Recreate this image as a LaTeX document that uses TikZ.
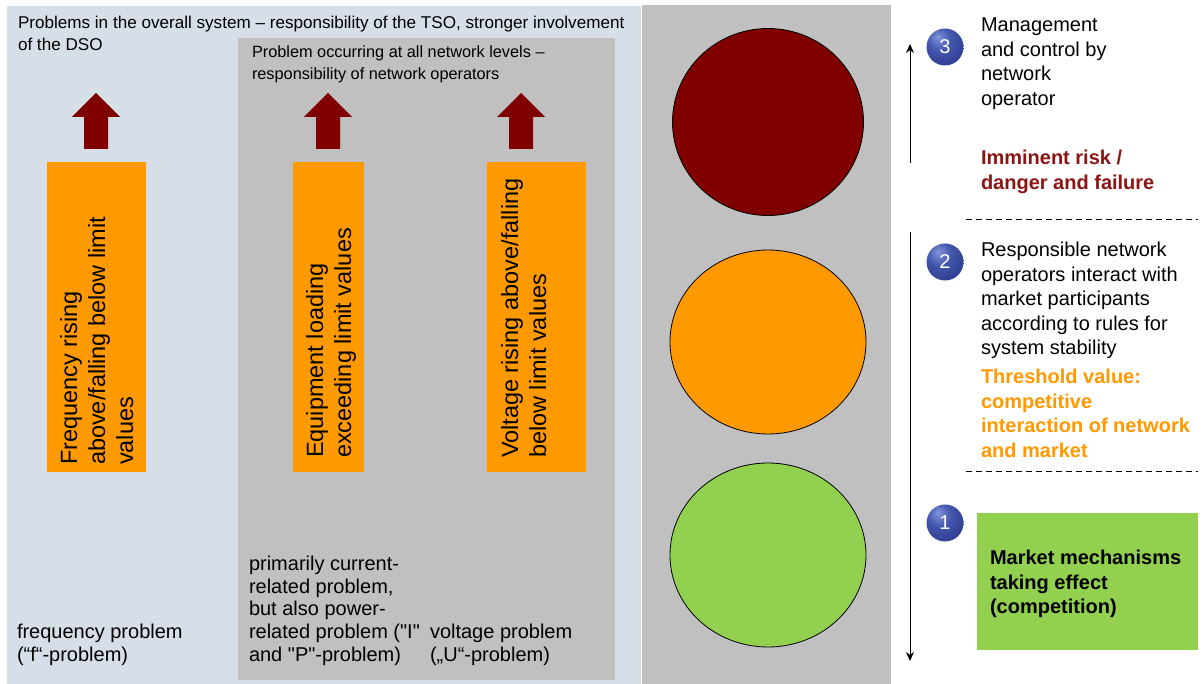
\documentclass[tikz,border=0pt]{standalone}
\usepackage{fontspec}
\setmainfont{Liberation Sans}
\usetikzlibrary{arrows.meta,shadings,shapes.geometric}
\definecolor{lightblue}{RGB}{214,223,232}
\definecolor{panelgray}{RGB}{192,192,192}
\definecolor{darkred}{RGB}{128,0,0}
\definecolor{orng}{RGB}{255,153,0}
\definecolor{grn}{RGB}{146,208,80}
\definecolor{riskred}{RGB}{140,20,20}
\pgfdeclareradialshading{navyball}{\pgfpoint{-10bp}{14bp}}{%
  color(0bp)=(rgb,255:red,130;green,150;blue,220);
  color(16bp)=(rgb,255:red,66;green,86;blue,172);
  color(40bp)=(rgb,255:red,42;green,54;blue,135);
  color(70bp)=(rgb,255:red,30;green,38;blue,105)}
\newcommand\sq{{\addfontfeatures{Ligatures=TeXOff}"}}
\begin{document}
\begin{tikzpicture}[x=1pt,y=-1pt,
  every node/.style={inner sep=0pt,outer sep=0pt},
  hdr/.style={anchor=north west,align=left,font=\fontsize{17.1}{22}\selectfont},
  ghdr/.style={anchor=north west,align=left,font=\fontsize{16.3}{22}\selectfont},
  btxt/.style={anchor=north west,align=left,font=\fontsize{20}{22.7}\selectfont},
  rtxt/.style={anchor=north west,align=left,font=\fontsize{20}{24.6}\selectfont},
  rbold/.style={rtxt,font=\fontsize{20}{24.6}\selectfont\bfseries},
  obox/.style={fill=orng,draw=none},
  vtxt/.style={rotate=90,anchor=north west,align=left,font=\fontsize{23.5}{28}\selectfont},
  fatarrow/.style={fill=darkred,draw=none},
  lamp/.style={draw=black,line width=0.8pt,ellipse},
  ball/.style={circle,minimum size=37pt,shading=navyball,text=white,font=\fontsize{20}{20}\selectfont},
  scale arrow/.style={line width=1pt,-{Stealth[length=9pt,width=8pt]}},
  sep/.style={dashed,dash pattern=on 6pt off 4pt,line width=1pt}
]
\useasboundingbox (0,0) rectangle (1203,684);
\fill[white] (0,0) rectangle (1203,684);
% panels
\fill[lightblue] (7,6) rectangle (641,684);
\fill[panelgray] (238,38) rectangle (615,680);
\fill[panelgray] (642,5) rectangle (891,684);
% headers
\node[hdr] (h1) at (18,16) {Problems in the overall system – responsibility of the TSO, stronger involvement\\of the DSO};
\node[ghdr] (h2) at (252,46) {Problem occurring at all network levels –\\responsibility of network operators};
% fat arrows
\foreach \c/\n in {96/a1,328/a2,521/a3}{
  \fill[fatarrow] (\c-12,149) -- (\c-12,117) -- (\c-24,117) -- (\c,93) -- (\c+24,117) -- (\c+12,117) -- (\c+12,149) -- cycle;
}
% orange boxes
\fill[obox] (47,162) rectangle (146,472);
\fill[obox] (293,162) rectangle (364,472);
\fill[obox] (487,162) rectangle (586,472);
\node[vtxt] (v1) at (60,465) {Frequency rising\\above/falling below limit\\values};
\node[vtxt] (v2) at (306,458) {Equipment loading\\exceeding limit values};
\node[vtxt] (v3) at (501,458) {Voltage rising above/falling\\below limit values};
% bottom texts
\node[btxt] (b1) at (17,624) {frequency problem\\(“f“-problem)};
\node[btxt] (b2) at (249,556) {primarily current-\\related problem,\\but also power-\\related problem (\sq I\sq\\and \sq P\sq-problem)};
\node[btxt] (b3) at (430,624) {voltage problem\\(„U“-problem)};
% lamps
\node[lamp,fill=darkred,minimum width=191pt,minimum height=187pt] (red) at (768,122) {};
\node[lamp,fill=orng,minimum width=196pt,minimum height=184pt] (orange) at (768,342) {};
\node[lamp,fill=grn,minimum width=196pt,minimum height=184pt] (green) at (768,555) {};
% scale arrows
\coordinate (u0) at (910,163);
\coordinate (u1) at (910,44);
\coordinate (d0) at (910,232);
\coordinate (d1) at (910,661);
\draw[scale arrow] (u0) -- (u1);
\draw[scale arrow] (d0) -- (d1);
% dashed separators
\coordinate (s1a) at (966,220); \coordinate (s1b) at (1198,220);
\coordinate (s2a) at (966,472); \coordinate (s2b) at (1198,472);
\draw[sep] (s1a) -- (s1b);
\draw[sep] (s2a) -- (s2b);
% balls
\node[ball] (n3) at (945,47) {3};
\node[ball] (n2) at (945,262) {2};
\node[ball] (n1) at (945,523) {1};
% right texts
\node[rtxt] (t3) at (981,18) {Management\\and control by\\network\\operator};
\node[rbold,text=riskred] (t3b) at (981,150) {Imminent risk /\\danger and failure};
\node[rtxt] (t2) at (981,242) {Responsible network\\operators interact with\\market participants\\according to rules for\\system stability};
\node[rbold,text=orng] (t2b) at (981,369) {Threshold value:\\competitive\\interaction of network\\and market};
\fill[grn] (977,513) rectangle (1198,650);
\node[rbold] (t1) at (990,550) {Market mechanisms\\taking effect\\(competition)};
\end{tikzpicture}
\end{document}
